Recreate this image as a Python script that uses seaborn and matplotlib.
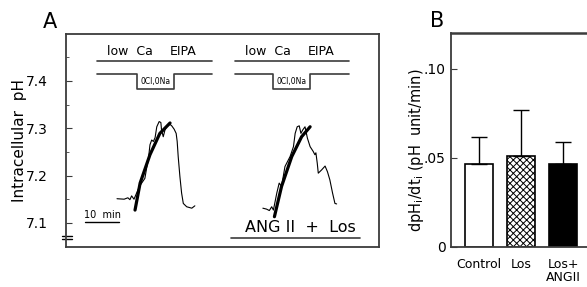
import matplotlib
matplotlib.use("Agg")
import matplotlib.pyplot as plt
import seaborn as sns
import pandas as pd

# Panel A: intracellular pH traces (time in min)
trace1_t = [15.0, 17.1, 18.2, 18.8, 19.3, 20.0, 21.6, 23.2, 23.7, 24.2, 24.7, 25.2,
            25.7, 26.2, 26.7, 27.4, 27.9, 28.1, 28.6, 29.1, 29.6, 30.1, 30.6, 31.1,
            31.8, 32.4, 32.7, 33.0, 33.5, 34.0, 34.5, 35.5, 37.0, 37.9]
trace1_ph = [7.151, 7.150, 7.153, 7.149, 7.157, 7.150, 7.177, 7.194, 7.215, 7.233,
             7.265, 7.275, 7.272, 7.280, 7.303, 7.314, 7.312, 7.296, 7.282, 7.296,
             7.303, 7.307, 7.308, 7.305, 7.298, 7.289, 7.272, 7.240, 7.198, 7.163,
             7.141, 7.134, 7.131, 7.136]
fit1_t = [20.3, 21.8, 24.7, 27.6, 30.6]
fit1_ph = [7.127, 7.184, 7.244, 7.289, 7.311]

trace2_t = [57.9, 59.0, 59.8, 60.5, 61.0, 62.0, 62.7, 63.4, 64.4, 65.9, 66.9, 67.4,
            68.0, 68.6, 69.1, 69.6, 70.3, 71.0, 71.8, 72.7, 73.2, 73.5, 73.9, 74.2,
            75.2, 76.2, 76.9, 77.6, 78.4, 79.1, 79.6]
trace2_ph = [7.131, 7.129, 7.126, 7.134, 7.127, 7.163, 7.184, 7.177, 7.219, 7.240,
             7.261, 7.289, 7.303, 7.305, 7.289, 7.296, 7.303, 7.279, 7.261, 7.251,
             7.244, 7.248, 7.226, 7.205, 7.212, 7.220, 7.208, 7.191, 7.163, 7.141,
             7.140]
fit2_t = [61.3, 63.4, 66.4, 69.3, 71.8]
fit2_ph = [7.113, 7.177, 7.240, 7.282, 7.303]

# Panel B: dpHi/dti
groups = ["Control", "Los", "Los+\nANGII"]
rate_mean = [0.0466, 0.0511, 0.0466]
rate_err = [0.0152, 0.0259, 0.0124]

sns.set_style("ticks")
plt.rcParams["font.family"] = ["DejaVu Sans"]
plt.rcParams["hatch.linewidth"] = 0.7
for k in ("text.color", "xtick.color", "ytick.color", "axes.labelcolor"):
    plt.rcParams[k] = "black"

fig = plt.figure(figsize=(5.87, 2.87), dpi=100)
W, H = 587, 287
axA = fig.add_axes([66 / W, 1 - 247 / H, 313 / W, 213 / H])
axB = fig.add_axes([451 / W, 1 - 247 / H, 154 / W, 214 / H])

spine_col = "#3c3c3c"

# ---- panel A
sns.lineplot(x=trace1_t, y=trace1_ph, sort=False, estimator=None, color="black", lw=0.8, ax=axA)
sns.lineplot(x=fit1_t, y=fit1_ph, sort=False, estimator=None, color="black", lw=2.3, ax=axA)
sns.lineplot(x=trace2_t, y=trace2_ph, sort=False, estimator=None, color="black", lw=0.8, ax=axA)
sns.lineplot(x=fit2_t, y=fit2_ph, sort=False, estimator=None, color="black", lw=2.3, ax=axA)

axA.set_xlim(0, 92.06)
axA.set_ylim(7.049, 7.499)
axA.set_xticks([])
axA.set_yticks([7.1, 7.2, 7.3, 7.4])
axA.set_yticklabels(["7.1", "7.2", "7.3", "7.4"])
axA.set_yticks([7.15, 7.25, 7.35, 7.45], minor=True)
axA.tick_params(axis="y", which="major", direction="in", length=4, pad=13, labelsize=10, color=spine_col)
axA.tick_params(axis="y", which="minor", direction="in", length=2, color=spine_col)
for s in axA.spines.values():
    s.set_color(spine_col)
    s.set_linewidth(1.3)


def protocol(ax, x0, x1, s0, s1):
    ax.plot([x0, x1], [7.442, 7.442], color=spine_col, lw=1.2)
    ax.plot([x0, s0, s0, s1, s1, x1], [7.415, 7.415, 7.383, 7.383, 7.415, 7.415],
            color=spine_col, lw=1.2)
    ax.text(x0 + 9.7, 7.462, "low  Ca", ha="center", va="center", fontsize=9)
    ax.text(x0 + 25.4, 7.462, "EIPA", ha="center", va="center", fontsize=9)
    ax.text((s0 + s1) / 2, 7.398, "0Cl,0Na", ha="center", va="center", fontsize=5.5)


protocol(axA, 9.1, 42.9, 20.9, 31.8)
protocol(axA, 49.7, 83.2, 60.9, 71.8)

# scale bar
axA.plot([5.6, 15.6], [7.102, 7.102], color="black", lw=1)
axA.text(10.6, 7.116, "10  min", ha="center", va="center", fontsize=7)
axA.text(69.0, 7.090, "ANG II  +  Los", ha="center", va="center", fontsize=11.5)
axA.plot([48.5, 86.5], [7.068, 7.068], color=spine_col, lw=1.2)

# axis break marks
ytr = axA.get_yaxis_transform()
for yb in (7.072, 7.065):
    axA.plot([-0.012, 0.02], [yb, yb], transform=ytr, color="black", lw=1, clip_on=False)

fig.text(20 / W, 1 - 141 / H, "Intracellular  pH", rotation=90, ha="center", va="center", fontsize=11)
fig.text(50 / W, 1 - 22 / H, "A", ha="center", va="center", fontsize=15)

# ---- panel B
df = pd.DataFrame({"group": groups, "rate": rate_mean})
sns.barplot(data=df, x="group", y="rate", hue="group", legend=False,
            palette=["white", "white", "black"], edgecolor="black", linewidth=1.2,
            width=0.67, ax=axB)
axB.patches[1].set_hatch("xxxxx")
axB.errorbar(range(len(groups)), rate_mean, yerr=[[0] * 3, rate_err], fmt="none",
             ecolor="black", elinewidth=1, capsize=6, capthick=1)

axB.set_xlim(-0.667, 3.0)
axB.set_ylim(0, 0.1202)
axB.set_yticks([0, 0.05, 0.10])
axB.set_yticklabels(["0", ".05", ".10"])
axB.set_xlabel("")
axB.set_ylabel("")
axB.tick_params(axis="y", direction="in", length=4, pad=4, labelsize=10, color=spine_col)
axB.tick_params(axis="x", length=0, pad=8, labelsize=9)
for lbl in axB.get_xticklabels():
    lbl.set_linespacing(0.95)
for s in axB.spines.values():
    s.set_color(spine_col)
    s.set_linewidth(1.3)
axB.spines["top"].set_linewidth(1.8)

fig.text(416 / W, 1 - 150 / H, r"dpH$_\mathregular{i}$/dt$_\mathregular{i}$ (pH  unit/min)",
         rotation=90, ha="center", va="center", fontsize=10.5)
fig.text(437 / W, 1 - 21 / H, "B", ha="center", va="center", fontsize=15)

fig.savefig("out.png", dpi=100)
